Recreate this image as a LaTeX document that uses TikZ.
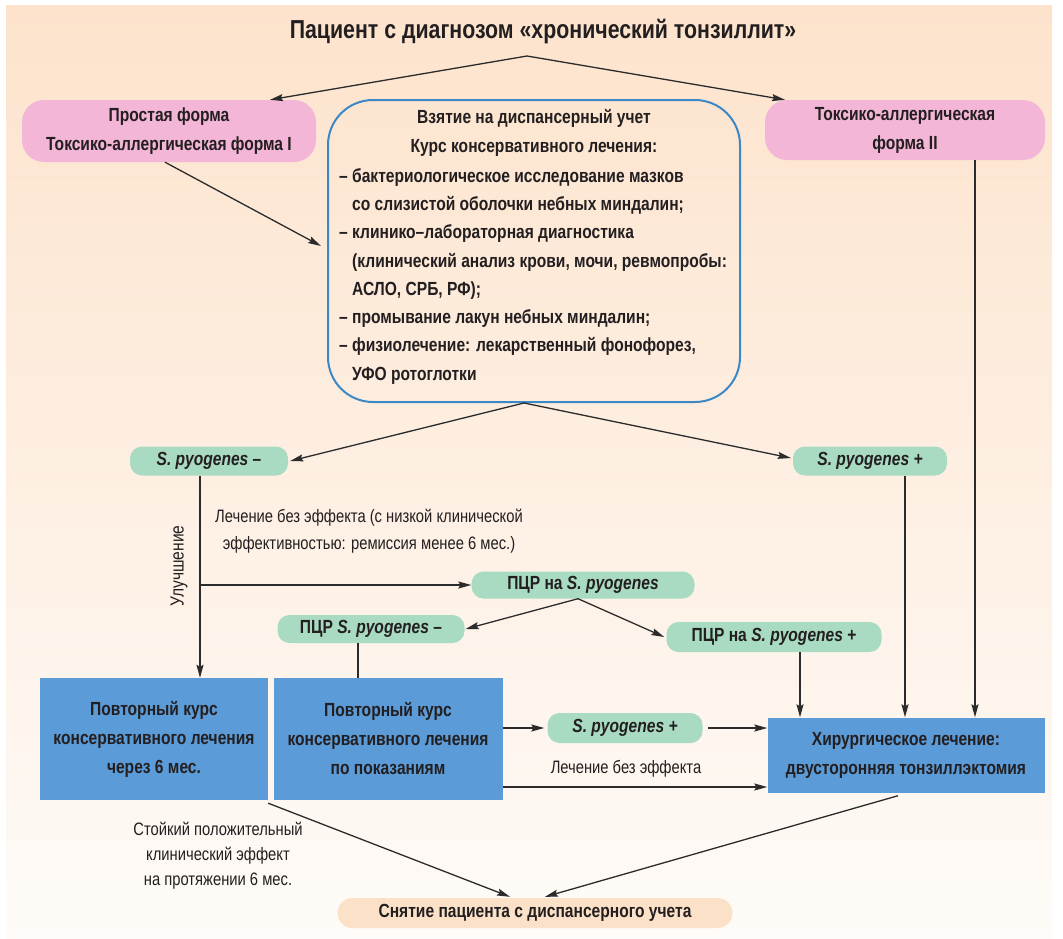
\documentclass[tikz,border=0pt]{standalone}
\usepackage{fontspec}
\setmainfont{Liberation Sans}[FakeStretch=0.82]
\usetikzlibrary{arrows.meta,shadings}
\definecolor{bgtop}{HTML}{FDE3CC}
\definecolor{bgbot}{HTML}{FEFBF8}
\definecolor{pinkf}{HTML}{F4B6D6}
\definecolor{greenf}{HTML}{A8DBC1}
\definecolor{bluef}{HTML}{5B9BD8}
\definecolor{blueline}{HTML}{3C87C6}
\definecolor{peachf}{HTML}{FBE1C8}
\definecolor{txt}{HTML}{231F20}
\definecolor{arrc}{HTML}{2B2B2B}
\newcommand\bxfnt{\fontsize{19}{29}\selectfont\bfseries}
\newcommand\lblfnt{\fontsize{18}{27}\selectfont}
\begin{document}
\begin{tikzpicture}[x=1pt,y=-1pt,
  every node/.style={text=txt},
  pinkbox/.style={fill=pinkf, rounded corners=22pt, align=center, font=\bxfnt, inner sep=0pt},
  greenbox/.style={fill=greenf, rounded corners=12pt, align=center, font=\bxfnt, inner sep=0pt},
  bluebox/.style={fill=bluef, align=center, font=\bxfnt, inner sep=0pt},
  peachbox/.style={fill=peachf, rounded corners=15pt, align=center, font=\bxfnt, inner sep=0pt},
  lbl/.style={align=center, font=\lblfnt, inner sep=0pt},
  arr/.style={draw=arrc, line width=1.3pt, -{Stealth[length=13pt,width=7pt,inset=2pt]}},
  ln/.style={draw=arrc, line width=1.3pt}
]
\useasboundingbox (0,0) rectangle (1063,938);
\shade[top color=bgtop, bottom color=bgbot] (6,5) rectangle (1052,938);

% title
\node[font=\fontsize{26}{30}\selectfont\bfseries] (title) at (543,32) {Пациент с диагнозом «хронический тонзиллит»};
\coordinate (apex) at (527,56);

% pink boxes
\node[pinkbox, minimum width=294, minimum height=62] (simple) at (169,131) {Простая форма\\Токсико-аллергическая форма I};
\node[pinkbox, minimum width=280, minimum height=60] (formII) at (905,130) {Токсико-аллергическая\\форма II};

% big course box
\node[draw=blueline, line width=2pt, rounded corners=45pt, minimum width=412, minimum height=302, inner sep=0pt] (course) at (534,251) {};
\node[font=\bxfnt, align=center, inner sep=0pt] (coursehead) at (534,133) {Взятие на диспансерный учет\\Курс консервативного лечения:};
\node[font=\fontsize{19}{28.3}\selectfont\bfseries, align=left, anchor=north west, inner sep=0pt] (courselist) at (339,168) {%
– бактериологическое исследование мазков\\
\phantom{– }со слизистой оболочки небных миндалин;\\
– клинико–лабораторная диагностика\\
\phantom{– }(клинический анализ крови, мочи, ревмопробы:\\
\phantom{– }АСЛО, СРБ, РФ);\\
– промывание лакун небных миндалин;\\
– физиолечение: лекарственный фонофорез,\\
\phantom{– }УФО ротоглотки};

% green boxes
\node[greenbox, minimum width=158, minimum height=29] (spm) at (209,461) {\itshape S. pyogenes –};
\node[greenbox, minimum width=154, minimum height=29] (spp) at (870,461) {\itshape S. pyogenes +};
\node[greenbox, minimum width=223, minimum height=27] (pcr) at (583,585) {ПЦР на \textit{S. pyogenes}};
\node[greenbox, minimum width=187, minimum height=28] (pcrm) at (371,629) {ПЦР \textit{S. pyogenes} –};
\node[greenbox, minimum width=215, minimum height=30] (pcrp) at (774,637) {ПЦР на \textit{S. pyogenes} +};
\node[greenbox, minimum width=155, minimum height=30] (spp2) at (625,728) {\itshape S. pyogenes +};

% blue boxes
\node[bluebox, minimum width=228, minimum height=122] (rep1) at (154,739) {Повторный курс\\консервативного лечения\\через 6 мес.};
\node[bluebox, minimum width=229, minimum height=122] (rep2) at (388,739) {Повторный курс\\консервативного лечения\\по показаниям};
\node[bluebox, minimum width=277, minimum height=75] (surg) at (906,755) {Хирургическое лечение:\\двусторонняя тонзиллэктомия};

% final
\node[peachbox, minimum width=395, minimum height=30] (final) at (535,913) {Снятие пациента с диспансерного учета};

% labels
\node[lbl] (noeff1) at (369,531) {Лечение без эффекта (с низкой клинической\\эффективностью: ремиссия менее 6 мес.)};
\node[lbl, rotate=90, font=\fontsize{19}{24}\selectfont] (improve) at (179,566) {Улучшение};
\node[lbl] (noeff2) at (626,769) {Лечение без эффекта};
\node[lbl, font=\fontsize{18}{25}\selectfont] (stable) at (218,856) {Стойкий положительный\\клинический эффект\\на протяжении 6 мес.};

% connectors
\draw[arr] (apex) -- ([xshift=101]simple.north);
\draw[arr] (apex) -- ([xshift=-120]formII.north);
\draw[arr] ([xshift=-4]simple.south) -- ([xshift=-6,yshift=5]course.west);
\draw[arr] ([xshift=70]formII.south) -- ([xshift=70]formII.south |- surg.north);

\coordinate (cfork) at ([xshift=-10]course.south);
\draw[arr] (cfork) -- ([xshift=2]spm.east);
\draw[arr] (cfork) -- ([xshift=-2,yshift=3]spp.west);

\coordinate (spmdown) at ([xshift=-9]spm.south);
\draw[arr] (spmdown) -- (spmdown |- rep1.north);
\coordinate (br) at (spmdown |- pcr.west);
\draw[arr] (br) -- (pcr.west);

\coordinate (pfork) at ([xshift=-5]pcr.south);
\draw[arr] (pfork) -- ([xshift=1]pcrm.east);
\draw[arr] (pfork) -- ([xshift=-2]pcrp.west);

\draw[ln] ([xshift=-13]pcrm.south) -- ([xshift=-13]pcrm.south |- rep2.north);
\draw[arr] ([xshift=26]pcrp.south) -- ([xshift=26]pcrp.south |- surg.north);
\draw[arr] ([xshift=35]spp.south) -- ([xshift=35]spp.south |- surg.north);

\draw[arr] (rep2.east |- spp2.west) -- ([xshift=-3]spp2.west);
\draw[arr] ([xshift=5]spp2.east) -- (spp2.east -| surg.west);
\draw[arr] ([yshift=-48]rep2.east) -- ([yshift=-48]rep2.east -| surg.west);

\draw[arr] ([yshift=-3]rep1.south east) -- ([xshift=-25,yshift=1]final.north);
\draw[arr] ([xshift=-8,yshift=-3]surg.south) -- ([xshift=10,yshift=1]final.north);
\end{tikzpicture}
\end{document}
